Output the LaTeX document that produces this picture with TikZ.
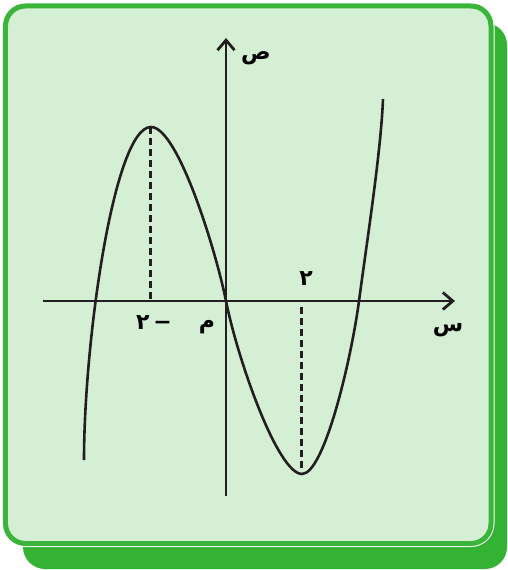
\documentclass[tikz,border=0pt]{standalone}
\usepackage{fontspec}
\newfontfamily\arabicfont[Script=Arabic]{DejaVu Sans}
\TeXXeTstate=1
\usetikzlibrary{arrows.meta}

\definecolor{boxgreen}{RGB}{58,180,58}
\definecolor{shadowgreen}{RGB}{51,178,51}
\definecolor{boxfill}{RGB}{213,239,213}
\definecolor{ink}{RGB}{35,31,32}

\begin{document}
\begin{tikzpicture}[
    x=1pt, y=1pt,
    axis/.style={-{Straight Barb[length=10pt,width=17pt]}, line width=2.8pt, draw=ink},
    curve/.style={line width=2.6pt, draw=ink},
    guide/.style={dash pattern=on 7pt off 4pt, line width=3pt, draw=ink},
    lbl/.style={
        font=\arabicfont\bfseries\fontsize{22}{26}\selectfont,
        text=black,
        inner sep=0pt
    }
]
    \useasboundingbox (-226,-269) rectangle (281,301);

    %------------------------------------------------
    % rámeček se stínem
    %------------------------------------------------
    \fill[shadowgreen, rounded corners=22pt] (-203,278) rectangle (281,-268);
    \draw[white, line width=7pt, rounded corners=20pt] (-220.5,295) rectangle (265,-242.5);
    \draw[boxgreen, fill=boxfill, line width=5pt, rounded corners=20pt] (-220.5,295) rectangle (265,-242.5);

    %------------------------------------------------
    % osy
    %------------------------------------------------
    \coordinate (O)  at (0,0);
    \coordinate (xs) at (-183,0);
    \coordinate (xe) at (229,0);
    \coordinate (ys) at (0,-195);
    \coordinate (ye) at (0,263);

    \draw[axis] (xs) -- (xe);
    \draw[axis] (ys) -- (ye);

    %------------------------------------------------
    % křivka
    %------------------------------------------------
    \coordinate (peak)   at (-75,174);
    \coordinate (trough) at (76,-173);

    \draw[curve] (-142,-159) .. controls (-142,-40) and (-112,174) .. (peak)
        .. controls (-48,174) and (-10,50) .. (O)
        .. controls (12,-60) and (52,-173) .. (trough)
        .. controls (98,-173) and (125,-60) .. (133,0)
        .. controls (141,60) and (155,150) .. (157,202);

    % pomocné čáry
    \coordinate (peakfoot) at (-75,0);
    \coordinate (troughtop) at (75,-6);
    \coordinate (troughfoot) at (75,-171);
    \draw[guide] (peak) -- (peakfoot);
    \draw[guide] (troughtop) -- (troughfoot);

    %------------------------------------------------
    % popisky
    %------------------------------------------------
    \node[lbl] (yname)    at (30,243)   {\beginR ص\endR};
    \node[lbl] (xname)    at (222,-29)  {\beginR س\endR};
    \node[lbl] (origin)   at (-19,-26)  {\beginR م\endR};
    \node[lbl] (minustwo) at (-72,-22)  {\beginR −\,٢\endR};
    \node[lbl] (two)      at (80,22)    {\beginR ٢\endR};

\end{tikzpicture}
\end{document}
